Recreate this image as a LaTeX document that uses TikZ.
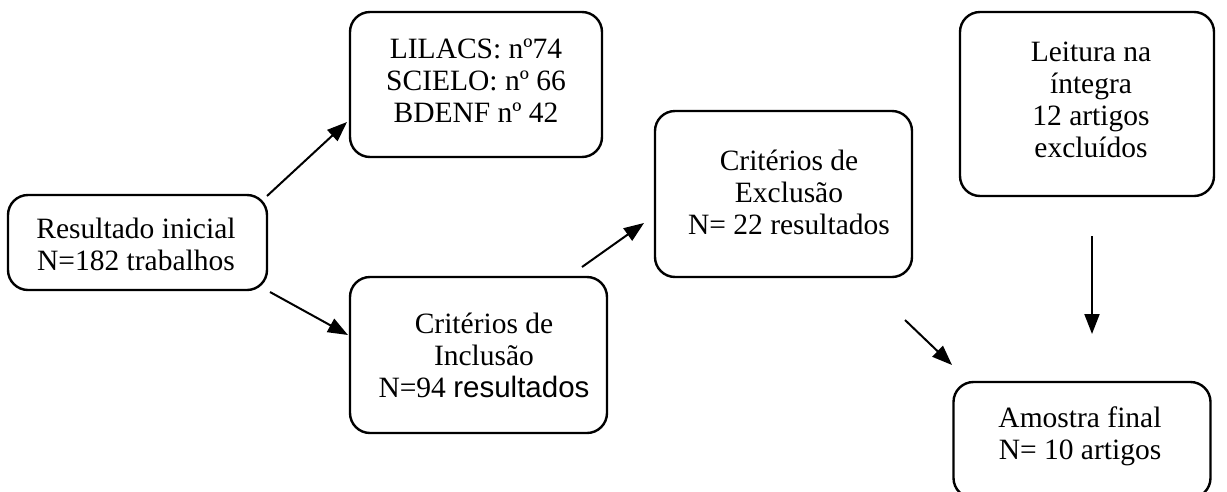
\documentclass[tikz,border=0pt]{standalone}
\usepackage{fontspec}
\setmainfont{Liberation Serif}
\newfontfamily\arialf{Liberation Sans}
\usetikzlibrary{arrows.meta}
\begin{document}
\begin{tikzpicture}[x=1pt,y=-1pt,
  box/.style={draw, line width=2.4pt, rounded corners=20pt, inner sep=0pt},
  txt/.style={font=\fontsize{29.5}{32}\selectfont, align=center, inner sep=0pt},
  arr/.style={line width=2pt, -{Triangle[length=20pt,width=15pt]}}]
\useasboundingbox (0,0) rectangle (1227,491);
% boxes
\node[box, minimum width=259pt, minimum height=95pt] (res) at (137.5,242.5) {};
\node[box, minimum width=252pt, minimum height=145pt] (lil) at (476,84.5) {};
\node[box, minimum width=257pt, minimum height=156pt] (inc) at (478.5,355) {};
\node[box, minimum width=257pt, minimum height=166pt] (exc) at (783.5,194) {};
\node[box, minimum width=254pt, minimum height=184pt] (lei) at (1087,104) {};
\node[box, minimum width=257pt, minimum height=116pt] (amo) at (1082,440) {};
% texts
\node[txt] (resT) at (136,244) {Resultado inicial\\N=182 trabalhos};
\node[txt] (lilT) at (476,80.5) {LILACS: nº74\\SCIELO: nº 66\\BDENF nº 42};
\node[txt] (incT) at (484,355.5) {Critérios de\\Inclusão\\N=94 {\arialf resultados}};
\node[txt] (excT) at (789,192) {Critérios de\\Exclusão\\N= 22 resultados};
\node[txt] (leiT) at (1091,100) {Leitura na\\íntegra\\12 artigos\\excluídos};
\node[txt] (amoT) at (1080,436) {Amostra final\\N= 10 artigos};
% arrow end points
\coordinate (a1s) at (267,196); \coordinate (a1e) at (347,122);
\coordinate (a2s) at (270,292); \coordinate (a2e) at (348,335);
\coordinate (a3s) at (582,267); \coordinate (a3e) at (644,223);
\coordinate (a4s) at (905,320); \coordinate (a4e) at (952,365);
\coordinate (a5s) at (1092,236); \coordinate (a5e) at (1092,334);
\draw[arr] (a1s) -- (a1e);
\draw[arr] (a2s) -- (a2e);
\draw[arr] (a3s) -- (a3e);
\draw[arr] (a4s) -- (a4e);
\draw[arr] (a5s) -- (a5e);
\end{tikzpicture}
\end{document}
